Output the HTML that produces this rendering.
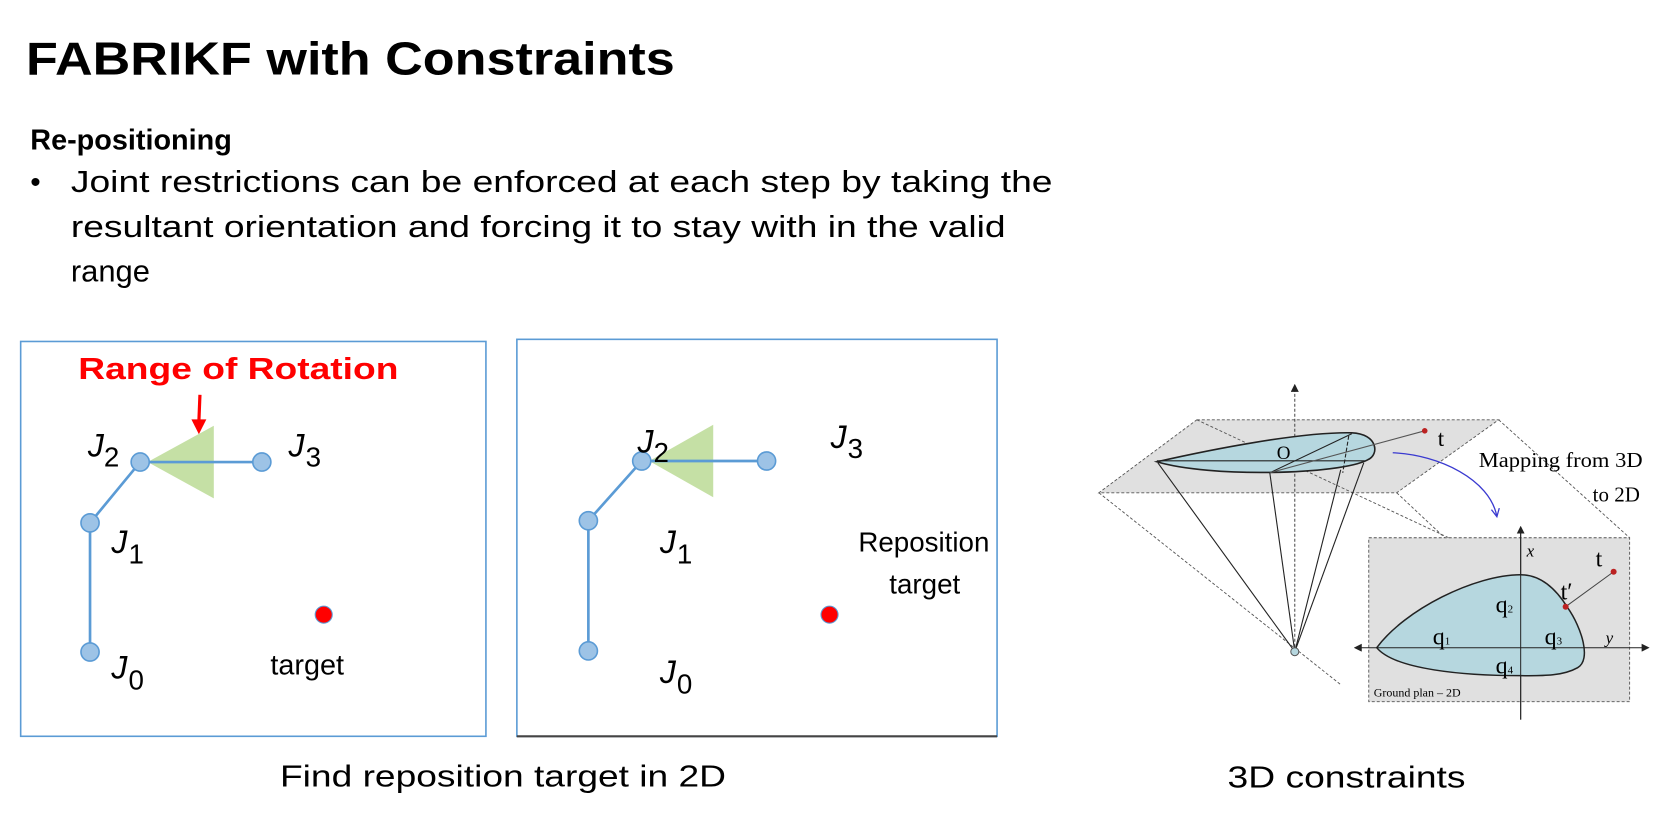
<!DOCTYPE html>
<html><head><meta charset="utf-8"><style>
html,body{margin:0;padding:0;background:#fff;}
svg{display:block;}
text{font-family:"Liberation Sans",Arial,sans-serif;}
.serif{font-family:"Liberation Serif",serif;}
</style></head><body>
<svg width="1674" height="827" viewBox="0 0 1568 775" xmlns="http://www.w3.org/2000/svg">
<defs>
<marker id="ah" markerWidth="8" markerHeight="8" refX="6" refY="4" orient="auto" markerUnits="userSpaceOnUse"><path d="M0,0 L8,4 L0,8 z" fill="#222"/></marker>
<marker id="ab" markerWidth="10" markerHeight="10" refX="7" refY="5" orient="auto" markerUnits="userSpaceOnUse"><path d="M0,1 L8,5 L0,9" fill="none" stroke="#3a3ad0" stroke-width="1.3"/></marker>
</defs>
<text x="24" y="70" font-size="43" font-weight="bold" textLength="608" lengthAdjust="spacingAndGlyphs">FABRIKF with Constraints</text>
<text x="28" y="140" font-size="27" font-weight="bold">Re-positioning</text>
<text x="28" y="180" font-size="28">•</text>
<text x="66" y="180" font-size="29" textLength="920" lengthAdjust="spacingAndGlyphs">Joint restrictions can be enforced at each step by taking the</text>
<text x="66" y="222" font-size="29" textLength="876" lengthAdjust="spacingAndGlyphs">resultant orientation and forcing it to stay with in the valid</text>
<text x="66" y="264" font-size="29">range</text>

<!-- left box -->
<rect x="19" y="320" width="436" height="370" fill="none" stroke="#5b9bd5" stroke-width="1.5"/>
<text x="73" y="355" font-size="29" font-weight="bold" fill="#f00" textLength="300" lengthAdjust="spacingAndGlyphs">Range of Rotation</text>
<line x1="187" y1="370" x2="186" y2="395" stroke="#f00" stroke-width="3"/>
<path d="M179,393 L193,393 L186,407 z" fill="#f00"/>
<polygon points="138,433 200,399 200,467" fill="#c5e0a5"/>
<polyline points="84,611 84,490 131,433 245,433" fill="none" stroke="#5b9bd5" stroke-width="2.5"/>
<g fill="#9dc3e6" stroke="#5b9bd5" stroke-width="1.5">
<circle cx="131" cy="433" r="8.5"/><circle cx="245" cy="433" r="8.5"/><circle cx="84" cy="490" r="8.5"/><circle cx="84" cy="611" r="8.5"/></g>
<circle cx="303" cy="576" r="8" fill="#f00" stroke="#5b9bd5" stroke-width="1"/>
<g font-size="30"><text x="82" y="428" font-style="italic">J</text><text x="97" y="437" font-size="26">2</text>
<text x="270" y="428" font-style="italic">J</text><text x="286" y="437" font-size="26">3</text>
<text x="104" y="518" font-style="italic">J</text><text x="120" y="528" font-size="26">1</text>
<text x="104" y="636" font-style="italic">J</text><text x="120" y="646" font-size="26">0</text></g>
<text x="253" y="632" font-size="27">target</text>

<!-- middle box -->
<rect x="484" y="318" width="450" height="372" fill="none" stroke="#5b9bd5" stroke-width="1.5"/>
<line x1="484" y1="690" x2="934" y2="690" stroke="#444" stroke-width="2"/>
<polygon points="608,432 668,398 668,466" fill="#c5e0a5"/>
<polyline points="551,610 551,488 601,432 718,432" fill="none" stroke="#5b9bd5" stroke-width="2.5"/>
<g fill="#9dc3e6" stroke="#5b9bd5" stroke-width="1.5">
<circle cx="601" cy="432" r="8.5"/><circle cx="718" cy="432" r="8.5"/><circle cx="551" cy="488" r="8.5"/><circle cx="551" cy="610" r="8.5"/></g>
<circle cx="777" cy="576" r="8" fill="#f00" stroke="#5b9bd5" stroke-width="1"/>
<g font-size="30"><text x="597" y="424" font-style="italic">J</text><text x="612" y="433" font-size="26">2</text>
<text x="778" y="420" font-style="italic">J</text><text x="794" y="429" font-size="26">3</text>
<text x="618" y="518" font-style="italic">J</text><text x="634" y="528" font-size="26">1</text>
<text x="618" y="640" font-style="italic">J</text><text x="634" y="650" font-size="26">0</text></g>
<text x="804" y="517" font-size="26">Reposition</text>
<text x="833" y="556" font-size="26">target</text>

<text x="262" y="737" font-size="29" textLength="418" lengthAdjust="spacingAndGlyphs">Find reposition target in 2D</text>
<text x="1150" y="738" font-size="29" textLength="223" lengthAdjust="spacingAndGlyphs">3D constraints</text>

<!-- 3D figure in actual pixel coords -->
<g transform="scale(0.93668)">
<polygon points="1197,420 1499,420 1397,493 1099,493" fill="#e0e0e0"/>
<g fill="none" stroke="#555" stroke-width="0.9" stroke-dasharray="3,2">
<polygon points="1197,420 1499,420 1397,493 1099,493"/>
<line x1="1099" y1="493" x2="1341" y2="685"/>
<line x1="1197" y1="420" x2="1449" y2="538"/>
<line x1="1397" y1="493" x2="1445" y2="538"/>
<line x1="1499" y1="420" x2="1630" y2="538"/>
</g>
<rect x="1369" y="538" width="261" height="164" fill="#e0e0e0" stroke="#555" stroke-width="0.9" stroke-dasharray="3,2"/>
<line x1="1295" y1="652" x2="1295" y2="386" stroke="#444" stroke-width="1" stroke-dasharray="3,2" marker-end="url(#ah)"/>
<path d="M1157,462 C1210,450 1300,432 1352,433 C1378,434 1380,455 1368,460 C1340,475 1210,478 1157,462 z" fill="#b6d7df" stroke="#222" stroke-width="1.6"/>
<g stroke="#222" stroke-width="1.1" fill="none">
<line x1="1157" y1="461" x2="1365" y2="461"/>
<line x1="1270" y1="473" x2="1352" y2="434"/>
<line x1="1270" y1="473" x2="1425" y2="431" stroke="#555"/>
<line x1="1349" y1="436" x2="1343" y2="473" stroke-dasharray="4,2"/>
<line x1="1295" y1="652" x2="1158" y2="463"/>
<line x1="1295" y1="652" x2="1270" y2="473"/>
<line x1="1295" y1="652" x2="1341" y2="470"/>
<line x1="1295" y1="652" x2="1364" y2="463"/>
</g>
<circle cx="1295" cy="652" r="4" fill="#b6d7df" stroke="#555"/>
<circle cx="1425" cy="431" r="2.8" fill="#b22"/>
<text class="serif" x="1277" y="459" font-size="19">O</text>
<text class="serif" x="1438" y="446" font-size="23">t</text>
<path d="M1393,453 C1440,455 1490,480 1497,516" fill="none" stroke="#3a3ad0" stroke-width="1.3" marker-end="url(#ab)"/>
<text class="serif" x="1479" y="467" font-size="21" textLength="164" lengthAdjust="spacingAndGlyphs">Mapping from 3D</text>
<text class="serif" x="1593" y="502" font-size="21">to 2D</text>
<line x1="1521" y1="720" x2="1521" y2="528" stroke="#222" stroke-width="1" marker-end="url(#ah)"/>
<path d="M1377,648 C1405,610 1475,575 1521,575 C1545,575 1560,595 1568,608 C1582,628 1592,660 1578,668 C1562,677 1540,676 1521,676 C1465,676 1395,670 1377,648 z" fill="#b6d7df" stroke="#222" stroke-width="1.5"/>
<line x1="1521" y1="720" x2="1521" y2="528" stroke="#222" stroke-width="1"/>
<line x1="1377" y1="648" x2="1648" y2="648" stroke="#222" stroke-width="1" marker-end="url(#ah)"/>
<line x1="1377" y1="648" x2="1356" y2="648" stroke="#222" stroke-width="1" marker-end="url(#ah)"/>
<line x1="1566" y1="607" x2="1614" y2="572" stroke="#444" stroke-width="1"/>
<circle cx="1566" cy="607" r="3" fill="#b22"/><circle cx="1614" cy="572" r="3" fill="#b22"/>
<text class="serif" x="1527" y="557" font-size="17" font-style="italic">x</text>
<text class="serif" x="1606" y="644" font-size="17" font-style="italic">y</text>
<text class="serif" x="1561" y="600" font-size="24">t′</text>
<text class="serif" x="1596" y="567" font-size="24">t</text>
<g font-size="24"><text x="1496" y="613" class="serif">q<tspan font-size="11">2</tspan></text>
<text x="1433" y="645" class="serif">q<tspan font-size="11">1</tspan></text>
<text x="1545" y="645" class="serif">q<tspan font-size="11">3</tspan></text>
<text x="1496" y="674" class="serif">q<tspan font-size="11">4</tspan></text></g>
<text class="serif" x="1374" y="697" font-size="12">Ground plan – 2D</text>
</g>
</svg>
</body></html>
